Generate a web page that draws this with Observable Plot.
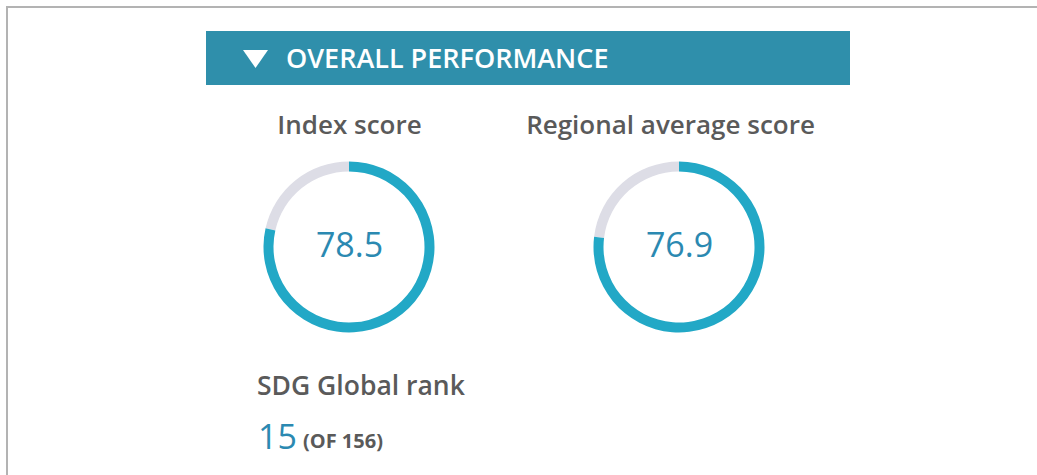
<!DOCTYPE html>
<html>
<head>
<meta charset="utf-8">
<script src="https://cdn.jsdelivr.net/npm/d3@7"></script>
<script src="https://cdn.jsdelivr.net/npm/@observablehq/plot@0.6"></script>
<style>
  html, body { margin: 0; padding: 0; background: #ffffff; }
  #wrap { position: relative; width: 1037px; height: 475px; overflow: hidden; font-family: "Open Sans", sans-serif; }
  #frame { position: absolute; left: 6px; top: 6px; width: 1100px; height: 600px; border-top: 2px solid #b3b3b3; border-left: 2px solid #b3b3b3; }
  #header { position: absolute; left: 206px; top: 31px; width: 644px; height: 54px; background: #2f8fab; color: #fff; }
  #header .txt { position: absolute; left: 80px; top: 0; line-height: 54px; font-size: 27px; font-weight: 600; letter-spacing: 0px; white-space: nowrap; }
  #chart { position: absolute; left: 0; top: 0; }
  .lab { position: absolute; white-space: nowrap; }
</style>
</head>
<body>
<div id="wrap">
  <div id="frame"></div>
  <div id="chart"></div>
  <div id="header">
    <svg width="644" height="54" style="position:absolute;left:0;top:0"><path d="M37,19 L62,19 L49.5,37 Z" fill="#fff"/></svg>
    <div class="txt"></div>
  </div>
  <div id="rank"></div>
</div>
<script>
// ---- data ----
const headerTitle = "OVERALL PERFORMANCE";
const categories = ["Index score", "Regional average score"];
const scores = [78.5, 76.9];
const scoreMax = 100;
const rankLabel = "SDG Global rank";
const rank = 15;
const rankTotal = 156;

// ---- style ----
const teal = "#22a8c6";
const track = "#dddde6";
const numColor = "#2b89b1";
const labColor = "#5a5a5a";

const rows = categories.map((c, i) => ({category: c, value: scores[i]}));

document.querySelector("#header .txt").textContent = headerTitle;

// custom ring mark using Plot's x/y scales
function ringMark(data, {outer = 85.5, inner = 75.5} = {}) {
  return (index, scales) => {
    const g = d3.create("svg:g");
    const angle = d3.scaleLinear([0, scoreMax], [0, 2 * Math.PI]);
    const arc = d3.arc();
    const cy = scales.y("score") + 1;
    for (const d of data) {
      const cx = scales.x(d.category);
      g.append("path")
        .attr("transform", `translate(${cx},${cy})`)
        .attr("fill", track)
        .attr("d", arc({innerRadius: inner, outerRadius: outer, startAngle: angle(d.value), endAngle: angle(scoreMax)}));
      g.append("path")
        .attr("transform", `translate(${cx},${cy})`)
        .attr("fill", teal)
        .attr("d", arc({innerRadius: inner, outerRadius: outer, startAngle: 0, endAngle: angle(d.value)}));
    }
    return g.node();
  };
}

const chart = Plot.plot({
  width: 1037,
  height: 475,
  margin: 0,
  style: {background: "transparent", overflow: "visible"},
  x: {type: "point", domain: categories, range: [348.5, 678.5], padding: 0, axis: null},
  y: {type: "point", domain: ["title", "score"], range: [125, 246], padding: 0, axis: null},
  marks: [
    ringMark(rows),
    Plot.text(rows.slice(0, 1), {x: "category", y: () => "title", text: "category", fontFamily: "Open Sans", fontSize: 26, fontWeight: 600, fill: labColor}),
    Plot.text(rows.slice(1), {x: "category", y: () => "title", text: "category", dx: -9, fontFamily: "Open Sans", fontSize: 26, fontWeight: 600, fill: labColor}),
    Plot.text(rows, {x: "category", y: () => "score", text: d => d.value.toFixed(1), fontFamily: "Open Sans", fontSize: 34, fontWeight: 400, fill: numColor})
  ]
});
document.getElementById("chart").appendChild(chart);

// rank block
const rankDiv = document.getElementById("rank");
rankDiv.innerHTML = `
  <div class="lab" style="left:257px;top:372px;font-size:26.5px;line-height:26px;font-weight:600;color:${labColor}">${rankLabel}</div>
  <div class="lab" style="left:258px;top:419px;font-size:34px;line-height:34px;font-weight:400;color:${numColor}">${rank}</div>
  <div class="lab" style="left:303px;top:431px;font-size:20px;line-height:20px;font-weight:700;color:${labColor}">(OF ${rankTotal})</div>
`;
</script>
</body>
</html>
